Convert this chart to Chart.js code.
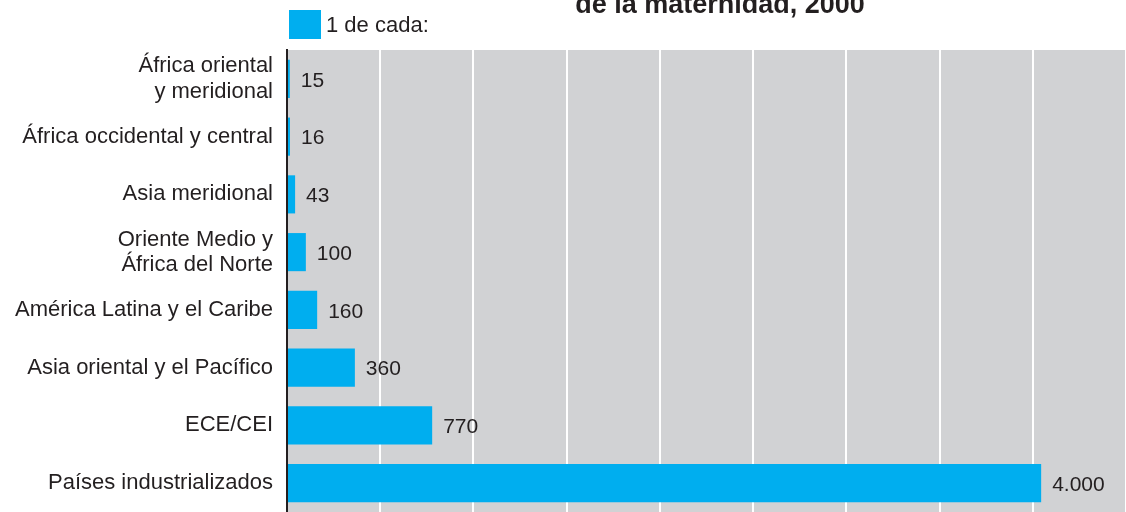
<!DOCTYPE html>
<html>
<head>
<meta charset="utf-8">
<script src="https://cdn.jsdelivr.net/npm/chart.js@4"></script>
<style>
body { margin: 0; background: #fff; }
#wrap { width: 1126px; height: 512px; position: relative; }
</style>
</head>
<body>
<div id="wrap"><canvas id="riesgo-chart"></canvas></div>
<script>
// datos
var regiones = [
    ['África oriental', 'y meridional'],
    'África occidental y central',
    'Asia meridional',
    ['Oriente Medio y', 'África del Norte'],
    'América Latina y el Caribe',
    'Asia oriental y el Pacífico',
    'ECE/CEI',
    'Países industrializados'
];
var unoDeCada = [15, 16, 43, 100, 160, 360, 770, 4000];
var leyenda = '1 de cada:';
var titulo = 'de la maternidad, 2000';

var azul = '#00aeef';
var texto = '#231f20';
var fuente = "'Liberation Sans', Arial, sans-serif";

function formato(v) {
    return String(v).replace(/\B(?=(\d{3})+(?!\d))/g, '.');
}

// fondo gris del area del grafico
var fondo = {
    id: 'fondo',
    beforeDraw: function (chart) {
        var a = chart.chartArea;
        var ctx = chart.ctx;
        ctx.save();
        ctx.fillStyle = '#d1d2d4';
        ctx.fillRect(a.left, a.top, a.right - a.left, chart.height - a.top);
        ctx.restore();
    }
};

// valores al lado de cada barra
var valores = {
    id: 'valores',
    afterDatasetsDraw: function (chart) {
        var ctx = chart.ctx;
        var meta = chart.getDatasetMeta(0);
        ctx.save();
        ctx.font = '21px ' + fuente;
        ctx.fillStyle = texto;
        ctx.textAlign = 'left';
        ctx.textBaseline = 'middle';
        meta.data.forEach(function (bar, i) {
            ctx.fillText(formato(chart.data.datasets[0].data[i]), bar.x + 11, bar.y + 2);
        });
        ctx.restore();
    }
};

// titulo (cortado arriba) y leyenda
var cabecera = {
    id: 'cabecera',
    afterDraw: function (chart) {
        var ctx = chart.ctx;
        ctx.save();
        ctx.fillStyle = texto;
        ctx.font = 'bold 27px ' + fuente;
        ctx.textAlign = 'center';
        ctx.textBaseline = 'alphabetic';
        ctx.fillText(titulo, 720, 13);

        ctx.fillStyle = chart.data.datasets[0].backgroundColor;
        ctx.fillRect(289, 10, 32, 29);
        ctx.fillStyle = texto;
        ctx.font = '22px ' + fuente;
        ctx.textAlign = 'left';
        ctx.textBaseline = 'middle';
        ctx.fillText(chart.data.datasets[0].label, 326, 26);
        ctx.restore();
    }
};

new Chart(document.getElementById('riesgo-chart'), {
    type: 'bar',
    data: {
        labels: regiones,
        datasets: [{
            label: leyenda,
            data: unoDeCada,
            backgroundColor: azul,
            borderWidth: 0,
            barPercentage: 0.66,
            categoryPercentage: 1
        }]
    },
    options: {
        indexAxis: 'y',
        responsive: true,
        maintainAspectRatio: false,
        animation: false,
        layout: { padding: { top: 50, right: 0, bottom: 0, left: 0 } },
        plugins: {
            legend: { display: false },
            tooltip: { enabled: false }
        },
        scales: {
            x: {
                min: 0,
                max: 4450,
                afterFit: function (scale) { scale.height = 0; },
                ticks: { display: false, stepSize: 500 },
                grid: {
                    drawTicks: false,
                    lineWidth: 2,
                    color: function (c) { return c.tick && c.tick.value > 0 ? '#ffffff' : 'rgba(0,0,0,0)'; }
                },
                border: { display: false }
            },
            y: {
                afterFit: function (scale) {
                    scale.width = 287;
                    scale.paddingTop = 0;
                    scale.paddingBottom = 0;
                },
                ticks: {
                    color: texto,
                    padding: 6,
                    font: { family: fuente, size: 22, lineHeight: 1.15 }
                },
                grid: { display: false },
                border: { display: true, color: '#231f20', width: 2 }
            }
        }
    },
    plugins: [fondo, valores, cabecera]
});
</script>
</body>
</html>
